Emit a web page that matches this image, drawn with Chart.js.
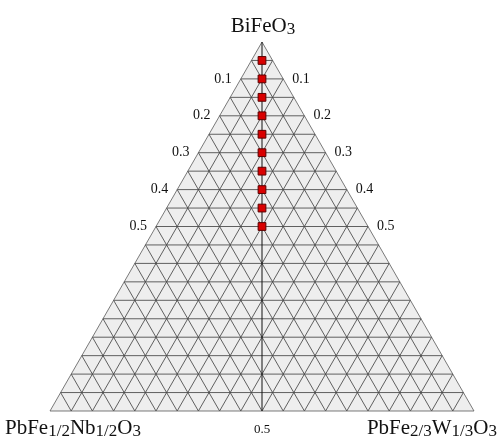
<!DOCTYPE html>
<html>
<head>
<meta charset="utf-8">
<script src="https://cdn.jsdelivr.net/npm/chart.js@4.4.1/dist/chart.umd.min.js"></script>
<style>
  html, body { margin: 0; padding: 0; background: #fff; }
  #wrap { width: 500px; height: 436px; }
</style>
</head>
<body>
<div id="wrap"><canvas id="c" width="500" height="436"></canvas></div>
<script>
// Composition of each sample (mole fractions of the three end members)
const bifeo3Fraction = [0.95, 0.90, 0.85, 0.80, 0.75, 0.70, 0.65, 0.60, 0.55, 0.50];
const pfnFraction    = [0.025, 0.05, 0.075, 0.10, 0.125, 0.15, 0.175, 0.20, 0.225, 0.25];
const pfwFraction    = [0.025, 0.05, 0.075, 0.10, 0.125, 0.15, 0.175, 0.20, 0.225, 0.25];

// Axis tick labels along the two sloping edges and the base
const sideTickValues = [0.1, 0.2, 0.3, 0.4, 0.5];
const sideTickLabels = ['0.1', '0.2', '0.3', '0.4', '0.5'];
const baseTickValues = [0.5];
const baseTickLabels = ['0.5'];

// Grid spacing of the ternary mesh
const gridStep = 0.05;

const H = Math.sqrt(3) / 2;
// ternary (a = BiFeO3, b = PFN, c = PFW) -> cartesian
const toXY = (a, b, c) => ({ x: 0.5 * a + c, y: a * H });

const points = bifeo3Fraction.map((a, i) => toXY(a, pfnFraction[i], pfwFraction[i]));

const SERIF = '"Liberation Serif", "DejaVu Serif", serif';

// Draw text with subscripts: parts = [[text, isSub], ...]
function richText(ctx, parts, x, y, size, subSize, drop, align) {
  const widths = parts.map(([t, sub]) => {
    ctx.font = (sub ? subSize : size) + 'px ' + SERIF;
    return ctx.measureText(t).width;
  });
  const total = widths.reduce((s, w) => s + w, 0);
  let cx = align === 'center' ? x - total / 2 : (align === 'right' ? x - total : x);
  ctx.textAlign = 'left';
  ctx.textBaseline = 'alphabetic';
  parts.forEach(([t, sub], i) => {
    ctx.font = (sub ? subSize : size) + 'px ' + SERIF;
    ctx.fillText(t, cx, y + (sub ? drop : 0));
    cx += widths[i];
  });
}

const ternaryPlugin = {
  id: 'ternaryGrid',
  beforeDatasetsDraw(chart) {
    const { ctx, scales: { x, y } } = chart;
    const px = p => [x.getPixelForValue(p.x), y.getPixelForValue(p.y)];
    const A = px(toXY(1, 0, 0)), B = px(toXY(0, 1, 0)), C = px(toXY(0, 0, 1));
    ctx.save();
    // triangle background
    ctx.beginPath();
    ctx.moveTo(A[0], A[1]); ctx.lineTo(B[0], B[1]); ctx.lineTo(C[0], C[1]); ctx.closePath();
    ctx.fillStyle = '#eeeeee';
    ctx.fill();

    // mesh lines
    ctx.strokeStyle = 'rgba(70,70,70,0.85)';
    ctx.lineWidth = 1;
    const n = Math.round(1 / gridStep);
    const seg = (p, q) => {
      const P = px(p), Q = px(q);
      ctx.beginPath(); ctx.moveTo(P[0], P[1]); ctx.lineTo(Q[0], Q[1]); ctx.stroke();
    };
    for (let i = 1; i < n; i++) {
      const k = i / n;
      seg(toXY(k, 1 - k, 0), toXY(k, 0, 1 - k));   // constant BiFeO3
      seg(toXY(0, k, 1 - k), toXY(1 - k, k, 0));   // constant PFN
      seg(toXY(0, 1 - k, k), toXY(1 - k, 0, k));   // constant PFW
    }
    // outline
    ctx.strokeStyle = 'rgba(90,90,90,0.8)';
    ctx.beginPath();
    ctx.moveTo(A[0], A[1]); ctx.lineTo(B[0], B[1]); ctx.lineTo(C[0], C[1]); ctx.closePath();
    ctx.stroke();

    // composition line PFN:PFW = 1:1
    const top = px(toXY(1, 0, 0)), bot = px(toXY(0, 0.5, 0.5));
    ctx.strokeStyle = '#111';
    ctx.lineWidth = 1;
    ctx.beginPath(); ctx.moveTo(top[0], top[1]); ctx.lineTo(bot[0], bot[1]); ctx.stroke();
    ctx.restore();
  },
  afterDraw(chart) {
    const { ctx, scales: { x, y } } = chart;
    const px = p => [x.getPixelForValue(p.x), y.getPixelForValue(p.y)];
    ctx.save();
    ctx.fillStyle = '#111';
    ctx.font = '14px ' + SERIF;
    ctx.textBaseline = 'middle';
    sideTickValues.forEach((t, i) => {
      const L = px(toXY(1 - t, t, 0));
      const R = px(toXY(1 - t, 0, t));
      ctx.textAlign = 'right';
      ctx.fillText(sideTickLabels[i], L[0] - 9, L[1]);
      ctx.textAlign = 'left';
      ctx.fillText(sideTickLabels[i], R[0] + 9, R[1]);
    });
    ctx.font = '13px ' + SERIF;
    ctx.textAlign = 'center';
    baseTickValues.forEach((t, i) => {
      const P = px(toXY(0, 1 - t, t));
      ctx.fillText(baseTickLabels[i], P[0], P[1] + 19);
    });

    // corner names
    const A = px(toXY(1, 0, 0)), B = px(toXY(0, 1, 0)), C = px(toXY(0, 0, 1));
    richText(ctx, [['BiFeO', false], ['3', true]], A[0] + 1, A[1] - 10, 21, 17, 2, 'center');
    richText(ctx, [['PbFe', false], ['1/2', true], ['Nb', false], ['1/2', true], ['O', false], ['3', true]],
      B[0] - 45, B[1] + 23, 21, 17, 2, 'left');
    richText(ctx, [['PbFe', false], ['2/3', true], ['W', false], ['1/3', true], ['O', false], ['3', true]],
      C[0] + 23, C[1] + 23, 21, 17, 2, 'right');
    ctx.restore();
  }
};

new Chart(document.getElementById('c'), {
  type: 'scatter',
  data: {
    datasets: [{
      label: 'samples',
      data: points,
      pointStyle: 'rect',
      pointRadius: 5.5,
      pointHoverRadius: 5.5,
      backgroundColor: '#d90000',
      borderColor: '#5a0000',
      borderWidth: 1
    }]
  },
  options: {
    responsive: false,
    devicePixelRatio: 1,
    animation: false,
    layout: { padding: { left: 50, right: 26, top: 42, bottom: 25 } },
    plugins: { legend: { display: false }, tooltip: { enabled: false } },
    scales: {
      x: { type: 'linear', min: 0, max: 1, display: false },
      y: { type: 'linear', min: 0, max: H, display: false }
    }
  },
  plugins: [ternaryPlugin]
});
</script>
</body>
</html>
